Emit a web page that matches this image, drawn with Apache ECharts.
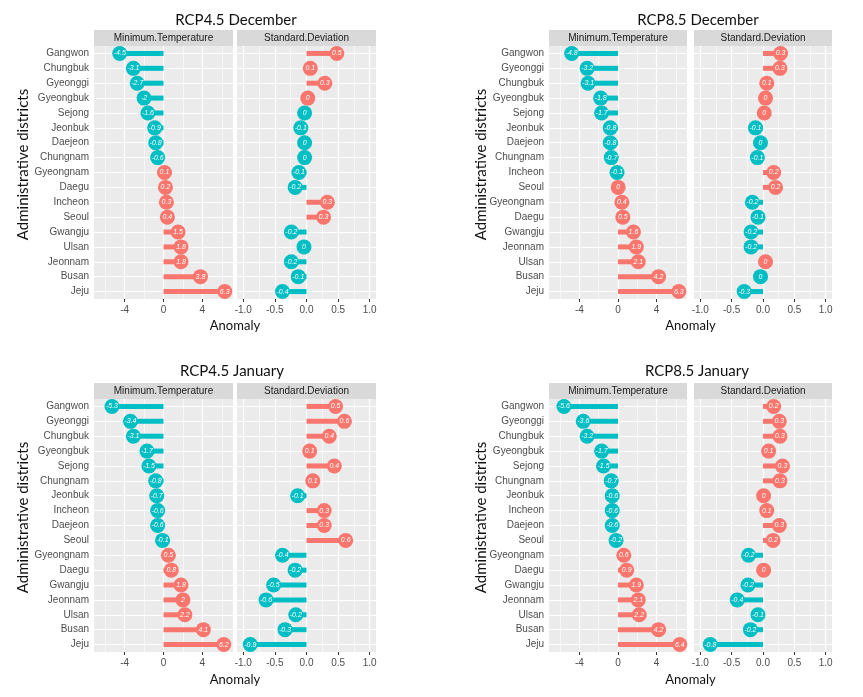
<!DOCTYPE html>
<html><head><meta charset="utf-8">
<script src="https://cdn.jsdelivr.net/npm/echarts@6/dist/echarts.min.js"></script>
<style>html,body{margin:0;padding:0;background:#fff}#c{width:863px;height:697px}</style>
</head><body><div id="c"></div>
<script>
// ---------- data ----------
const dec45Districts = ['Gangwon','Chungbuk','Gyeonggi','Gyeongbuk','Sejong','Jeonbuk','Daejeon','Chungnam','Gyeongnam','Daegu','Incheon','Seoul','Gwangju','Ulsan','Jeonnam','Busan','Jeju'];
const dec45MinTemp = [-4.5,-3.1,-2.7,-2.0,-1.6,-0.9,-0.8,-0.6,0.1,0.2,0.3,0.4,1.5,1.8,1.8,3.8,6.3];
const dec45StdDev  = [0.48,0.06,0.29,0.02,-0.03,-0.09,-0.03,-0.03,-0.12,-0.18,0.33,0.27,-0.24,-0.04,-0.24,-0.13,-0.38];

const dec85Districts = ['Gangwon','Gyeonggi','Chungbuk','Gyeongbuk','Sejong','Jeonbuk','Daejeon','Chungnam','Incheon','Seoul','Gyeongnam','Daegu','Gwangju','Jeonnam','Ulsan','Busan','Jeju'];
const dec85MinTemp = [-4.8,-3.2,-3.1,-1.8,-1.7,-0.8,-0.8,-0.7,-0.1,0.02,0.4,0.5,1.6,1.9,2.1,4.2,6.3];
const dec85StdDev  = [0.28,0.27,0.06,0.04,0.02,-0.12,-0.04,-0.09,0.17,0.2,-0.17,-0.08,-0.19,-0.19,0.04,-0.04,-0.3];

const jan45Districts = ['Gangwon','Gyeonggi','Chungbuk','Gyeongbuk','Sejong','Chungnam','Jeonbuk','Incheon','Daejeon','Seoul','Gyeongnam','Daegu','Gwangju','Jeonnam','Ulsan','Busan','Jeju'];
const jan45MinTemp = [-5.3,-3.4,-3.1,-1.7,-1.5,-0.8,-0.7,-0.6,-0.6,-0.1,0.5,0.8,1.8,2.0,2.2,4.1,6.2];
const jan45StdDev  = [0.46,0.6,0.36,0.05,0.44,0.1,-0.14,0.28,0.28,0.62,-0.38,-0.18,-0.52,-0.64,-0.17,-0.34,-0.89];

const jan85Districts = ['Gangwon','Gyeonggi','Chungbuk','Gyeongbuk','Sejong','Chungnam','Jeonbuk','Incheon','Daejeon','Seoul','Gyeongnam','Daegu','Gwangju','Jeonnam','Ulsan','Busan','Jeju'];
const jan85MinTemp = [-5.6,-3.6,-3.2,-1.7,-1.5,-0.7,-0.6,-0.6,-0.6,-0.2,0.6,0.9,1.9,2.1,2.2,4.2,6.4];
const jan85StdDev  = [0.17,0.26,0.27,0.09,0.31,0.27,0.01,0.06,0.26,0.16,-0.23,0.01,-0.24,-0.41,-0.08,-0.2,-0.84];

const panelTitles = ['RCP4.5 December','RCP8.5 December','RCP4.5 January','RCP8.5 January'];
const facetNames = ['Minimum.Temperature','Standard.Deviation'];
const minTempTicks = [-4,0,4];
const minTempMinorTicks = [-6,-2,2,6];
const stdDevTicks = [-1,-0.5,0,0.5,1];
const stdDevMinorTicks = [-0.75,-0.25,0.25,0.75];
const minTempRange = [-7.15,7.15];
const stdDevRange = [-1.1,1.1];
const xTitle = 'Anomaly';
const yTitle = 'Administrative districts';

// ---------- layout / style ----------
const TEAL = '#00BFC4', RED = '#F8766D';
const FONT = '"Liberation Sans", Arial, sans-serif';
const TFONT = 'Lato, "Open Sans", sans-serif';
const layout = [
  {minLeft:94,  stdLeft:237, w:139, top:46,  h:253, stripTop:30,  titleX:236, titleY:20,  yTitleX:23,  xTitleY:326},
  {minLeft:549, stdLeft:694, w:138, top:46,  h:253, stripTop:30,  titleX:698, titleY:20,  yTitleX:481, xTitleY:326},
  {minLeft:94,  stdLeft:237, w:139, top:399, h:253, stripTop:383, titleX:232, titleY:371, yTitleX:23,  xTitleY:680},
  {minLeft:549, stdLeft:694, w:138, top:399, h:253, stripTop:383, titleX:697, titleY:371, yTitleX:481, xTitleY:680}
];
const panelData = [
  [dec45Districts, dec45MinTemp, dec45StdDev],
  [dec85Districts, dec85MinTemp, dec85StdDev],
  [jan45Districts, jan45MinTemp, jan45StdDev],
  [jan85Districts, jan85MinTemp, jan85StdDev]
];

const col = v => (v < 0 ? TEAL : RED);
const fmt = v => { const r = Math.round(v * 10) / 10; return r === 0 ? '0' : String(r); };

const option = {animation:false, grid:[], xAxis:[], yAxis:[], series:[], graphic:[]};

panelData.forEach((pd, p) => {
  const L = layout[p];
  const districts = pd[0];
  [0,1].forEach(f => {
    const gi = p*2 + f;
    const left = f === 0 ? L.minLeft : L.stdLeft;
    const vals = f === 0 ? pd[1] : pd[2];
    const ticks = f === 0 ? minTempTicks : stdDevTicks;
    const minor = f === 0 ? minTempMinorTicks : stdDevMinorTicks;
    const range = f === 0 ? minTempRange : stdDevRange;
    option.grid.push({left:left, top:L.top, width:L.w, height:L.h, show:true, backgroundColor:'#EBEBEB', borderWidth:0});
    option.xAxis.push({
      type:'value', gridIndex:gi, min:range[0], max:range[1],
      splitLine:{show:false}, axisLine:{show:false},
      axisTick:{show:true, customValues:ticks, length:3, lineStyle:{color:'#333333', width:1}},
      axisLabel:{customValues:ticks, color:'#4D4D4D', fontSize:10, fontFamily:FONT, margin:6,
        formatter: v => (f === 0 ? String(v) : Number(v).toFixed(1))}
    });
    option.yAxis.push({
      type:'category', gridIndex:gi, data:districts, inverse:true, boundaryGap:true,
      axisLine:{show:false}, splitLine:{show:false},
      axisTick:{show:f === 0, alignWithLabel:true, length:3, lineStyle:{color:'#333333', width:1}},
      axisLabel:{show:f === 0, color:'#4D4D4D', fontSize:10, fontFamily:FONT, margin:5}
    });
    const gridLines = [];
    minor.forEach(v => gridLines.push({xAxis:v, lineStyle:{color:'#FFFFFF', width:0.6, type:'solid'}}));
    ticks.forEach(v => gridLines.push({xAxis:v, lineStyle:{color:'#FFFFFF', width:1.2, type:'solid'}}));
    districts.forEach(d => gridLines.push({yAxis:d, lineStyle:{color:'#FFFFFF', width:1.2, type:'solid'}}));
    option.series.push({
      type:'line', xAxisIndex:gi, yAxisIndex:gi, data:[], z:1, silent:true,
      markLine:{silent:true, symbol:['none','none'], z:1, label:{show:false}, animation:false, data:gridLines}
    });
    option.series.push({
      type:'bar', xAxisIndex:gi, yAxisIndex:gi, barWidth:5, z:3, silent:true,
      data: vals.map(v => ({value:v, itemStyle:{color:col(v)}}))
    });
    option.series.push({
      type:'scatter', xAxisIndex:gi, yAxisIndex:gi, symbolSize:15, z:4, silent:true,
      data: vals.map((v,i) => ({value:[v,i], itemStyle:{color:col(v), opacity:1}})),
      label:{show:true, position:'inside', formatter: q => fmt(q.value[0]), color:'#FFFFFF',
        fontSize:7, fontStyle:'italic', fontFamily:FONT}
    });
    // strip
    option.graphic.push({type:'rect', shape:{x:left, y:L.stripTop, width:L.w, height:L.top - L.stripTop}, style:{fill:'#D9D9D9'}, silent:true});
    option.graphic.push({type:'text', x:left + L.w/2, y:(L.stripTop + L.top)/2, silent:true,
      style:{text:facetNames[f], fill:'#1A1A1A', font:'10px ' + FONT, textAlign:'center', textVerticalAlign:'middle', align:'center', verticalAlign:'middle'}});
  });
  option.graphic.push({type:'text', x:L.titleX, y:L.titleY, silent:true,
    style:{text:panelTitles[p], fill:'#111111', font:'15px ' + TFONT, textAlign:'center', textVerticalAlign:'middle', align:'center', verticalAlign:'middle'}});
  option.graphic.push({type:'text', x:(L.minLeft + L.stdLeft + L.w)/2, y:L.xTitleY, silent:true,
    style:{text:xTitle, fill:'#111111', font:'13px ' + TFONT, textAlign:'center', textVerticalAlign:'middle', align:'center', verticalAlign:'middle'}});
  option.graphic.push({type:'text', x:L.yTitleX, y:(L.stripTop + L.top + L.h)/2, rotation:Math.PI/2, silent:true,
    style:{text:yTitle, fill:'#111111', font:'15px ' + TFONT, textAlign:'center', textVerticalAlign:'middle', align:'center', verticalAlign:'middle'}});
});

const chart = echarts.init(document.getElementById('c'), null, {renderer:'canvas'});
chart.setOption(option);
</script>
</body></html>
